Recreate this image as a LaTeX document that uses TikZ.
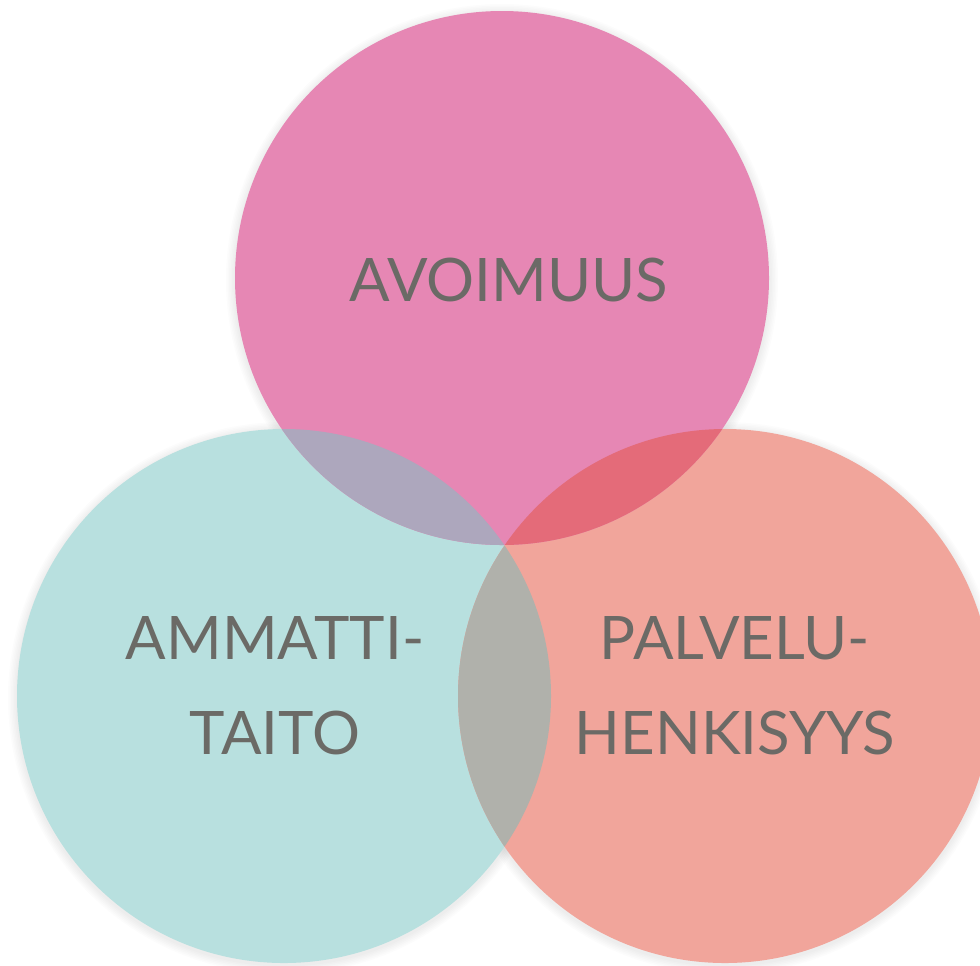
\documentclass[tikz,border=0pt]{standalone}
\usepackage{fontspec}
\setmainfont{Lato}
\definecolor{cpink}{HTML}{E687B4}
\definecolor{cteal}{HTML}{B8E0DF}
\definecolor{csalmon}{HTML}{F1A59B}
\definecolor{cpt}{HTML}{ADA7BD}
\definecolor{cps}{HTML}{E46B79}
\definecolor{cts}{HTML}{B0B1AB}
\definecolor{ctxt}{HTML}{6B6A66}
\tikzset{
  lbl/.style={text=ctxt, font=\fontsize{45}{71}\selectfont, align=center, inner sep=0pt},
  disc/.style={circle, minimum size=400.5pt, inner sep=0pt, draw=none}
}
\begin{document}
\begin{tikzpicture}[x=0.75pt,y=-0.75pt]
\useasboundingbox (0,0) rectangle (980,965);
\fill[white] (0,0) rectangle (980,965);
% soft shadows
\foreach \cx/\cy in {284/696, 725/696, 502/278}{
  \foreach \i in {1,...,6}{
    \fill[black, opacity=0.012] (\cx,\cy+2) circle ({267+\i*1.5});
  }
}
\node[disc, fill=cteal] (teal) at (284,696) {};
\node[disc, fill=csalmon] (salmon) at (725,696) {};
\node[disc, fill=cpink] (pink) at (502,278) {};
\begin{scope}
  \clip (502,278) circle (267);
  \fill[cpt] (284,696) circle (267);
\end{scope}
\begin{scope}
  \clip (502,278) circle (267);
  \fill[cps] (725,696) circle (267);
\end{scope}
\begin{scope}
  \clip (284,696) circle (267);
  \fill[cts] (725,696) circle (267);
\end{scope}
\node[lbl] (t1) at (509,280) {AVOIMUUS};
\node[lbl] (t2) at (275,686) {AMMATTI-\\TAITO};
\node[lbl] (t3) at (735,686) {PALVELU-\\HENKISYYS};
\end{tikzpicture}
\end{document}
